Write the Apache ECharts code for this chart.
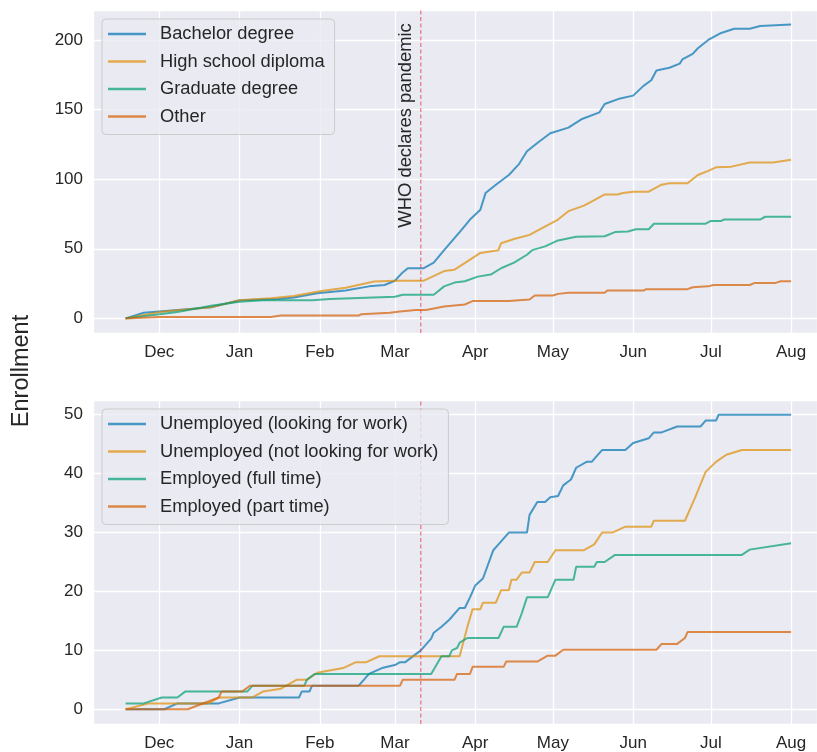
<!DOCTYPE html>
<html>
<head>
<meta charset="utf-8">
<script src="https://cdn.jsdelivr.net/npm/echarts@6/dist/echarts.min.js"></script>
<style>
  html, body { margin: 0; padding: 0; background: #fff; }
  #chart { width: 817px; height: 752px; }
</style>
</head>
<body>
<div id="chart"></div>
<script>
// cumulative enrollment [date, count]
const bachelorDegree = [
  ['2019-11-18', 0], ['2019-11-25', 4], ['2019-12-01', 5], ['2019-12-21', 8], ['2020-01-01', 13],
  ['2020-01-16', 14], ['2020-01-22', 15], ['2020-01-31', 18], ['2020-02-11', 20], ['2020-02-20', 23],
  ['2020-02-26', 24], ['2020-03-01', 27], ['2020-03-04', 33], ['2020-03-06', 36], ['2020-03-12', 36],
  ['2020-03-16', 40], ['2020-03-20', 49], ['2020-03-26', 62], ['2020-03-30', 71], ['2020-04-03', 78],
  ['2020-04-05', 90], ['2020-04-09', 96], ['2020-04-14', 103], ['2020-04-18', 111], ['2020-04-21', 120],
  ['2020-04-25', 126], ['2020-04-30', 133], ['2020-05-07', 137], ['2020-05-12', 143], ['2020-05-19', 148],
  ['2020-05-21', 154], ['2020-05-27', 158], ['2020-06-01', 160], ['2020-06-05', 167], ['2020-06-08', 171],
  ['2020-06-10', 178], ['2020-06-15', 180], ['2020-06-19', 183], ['2020-06-20', 186], ['2020-06-24', 190],
  ['2020-06-26', 194], ['2020-06-30', 200], ['2020-07-05', 205], ['2020-07-10', 208], ['2020-07-16', 208],
  ['2020-07-20', 210], ['2020-08-01', 211]
]
const highSchool = [
  ['2019-11-18', 0], ['2019-12-01', 4.5], ['2019-12-21', 8], ['2020-01-01', 13], ['2020-01-13', 14.5],
  ['2020-01-22', 16], ['2020-02-01', 19.5], ['2020-02-11', 22], ['2020-02-22', 26.5], ['2020-03-01', 27],
  ['2020-03-12', 27], ['2020-03-20', 34], ['2020-03-24', 35], ['2020-03-29', 41], ['2020-04-03', 47],
  ['2020-04-10', 49], ['2020-04-11', 54], ['2020-04-16', 57], ['2020-04-22', 60], ['2020-04-29', 67],
  ['2020-05-03', 71], ['2020-05-07', 77], ['2020-05-13', 81], ['2020-05-17', 85], ['2020-05-21', 89],
  ['2020-05-26', 89], ['2020-05-28', 90], ['2020-06-01', 91], ['2020-06-07', 91], ['2020-06-12', 96],
  ['2020-06-15', 97], ['2020-06-22', 97], ['2020-06-26', 103], ['2020-06-30', 106], ['2020-07-03', 108.5],
  ['2020-07-09', 109], ['2020-07-16', 112], ['2020-07-25', 112], ['2020-08-01', 114]
]
const graduateDegree = [
  ['2019-11-18', 0], ['2019-12-01', 3], ['2019-12-08', 4.5], ['2019-12-21', 9], ['2020-01-01', 12],
  ['2020-01-10', 13], ['2020-01-29', 13], ['2020-02-05', 14], ['2020-03-01', 15.5], ['2020-03-04', 17],
  ['2020-03-16', 17], ['2020-03-20', 23], ['2020-03-24', 25.7], ['2020-03-28', 26.7], ['2020-04-02', 30],
  ['2020-04-07', 31.5], ['2020-04-11', 36], ['2020-04-16', 40], ['2020-04-21', 45.7], ['2020-04-23', 49],
  ['2020-04-28', 51.7], ['2020-05-03', 56], ['2020-05-10', 58.6], ['2020-05-21', 59], ['2020-05-25', 62],
  ['2020-05-30', 62.4], ['2020-06-02', 64], ['2020-06-07', 64], ['2020-06-09', 68], ['2020-06-29', 68],
  ['2020-07-01', 70], ['2020-07-05', 70], ['2020-07-06', 71], ['2020-07-20', 71], ['2020-07-22', 73],
  ['2020-08-01', 73]
]
const otherDegree = [
  ['2019-11-18', 0], ['2019-12-01', 1], ['2020-01-13', 1], ['2020-01-17', 2], ['2020-02-16', 2],
  ['2020-02-17', 3], ['2020-02-28', 4], ['2020-03-03', 5], ['2020-03-09', 6], ['2020-03-13', 6],
  ['2020-03-20', 8.5], ['2020-03-28', 10], ['2020-03-31', 12.4], ['2020-04-14', 12.4], ['2020-04-22', 13.6],
  ['2020-04-24', 16.4], ['2020-05-01', 16.4], ['2020-05-03', 17.6], ['2020-05-07', 18.4], ['2020-05-21', 18.4],
  ['2020-05-22', 20], ['2020-06-05', 20], ['2020-06-06', 21], ['2020-06-22', 21], ['2020-06-24', 22.4],
  ['2020-06-30', 23], ['2020-07-02', 24], ['2020-07-16', 24], ['2020-07-18', 25.5], ['2020-07-26', 25.5],
  ['2020-07-28', 26.7], ['2020-08-01', 26.7]
]

const unemployedLooking = [
  ['2019-11-18', 0], ['2019-12-03', 0], ['2019-12-08', 1], ['2019-12-24', 1], ['2020-01-01', 2],
  ['2020-01-24', 2], ['2020-01-25', 3], ['2020-01-28', 3], ['2020-01-29', 4], ['2020-02-16', 4],
  ['2020-02-18', 5], ['2020-02-20', 6], ['2020-02-25', 7], ['2020-03-01', 7.5], ['2020-03-03', 8],
  ['2020-03-05', 8], ['2020-03-11', 10], ['2020-03-15', 12], ['2020-03-16', 13], ['2020-03-19', 14],
  ['2020-03-22', 15.2], ['2020-03-26', 17.2], ['2020-03-28', 17.2], ['2020-03-30', 19], ['2020-04-01', 21],
  ['2020-04-04', 22.2], ['2020-04-08', 27], ['2020-04-10', 28], ['2020-04-14', 30], ['2020-04-21', 30],
  ['2020-04-22', 33], ['2020-04-25', 35.2], ['2020-04-28', 35.2], ['2020-04-30', 36], ['2020-05-03', 36.2],
  ['2020-05-05', 38], ['2020-05-08', 39], ['2020-05-10', 41], ['2020-05-14', 42], ['2020-05-16', 42],
  ['2020-05-18', 43], ['2020-05-20', 44], ['2020-05-29', 44], ['2020-06-01', 45.2], ['2020-06-07', 46],
  ['2020-06-09', 47], ['2020-06-12', 47], ['2020-06-18', 48], ['2020-06-27', 48], ['2020-06-29', 49],
  ['2020-07-03', 49], ['2020-07-04', 50], ['2020-08-01', 50]
]
const unemployedNotLooking = [
  ['2019-11-18', 0], ['2019-11-27', 1], ['2019-12-20', 1], ['2019-12-24', 2], ['2020-01-06', 2],
  ['2020-01-10', 3], ['2020-01-17', 3.5], ['2020-01-23', 5], ['2020-01-27', 5], ['2020-01-31', 6.2],
  ['2020-02-10', 7], ['2020-02-15', 8], ['2020-02-19', 8], ['2020-02-24', 9], ['2020-03-26', 9],
  ['2020-03-27', 10.7], ['2020-03-29', 14], ['2020-03-31', 17], ['2020-04-03', 17], ['2020-04-04', 18.1],
  ['2020-04-09', 18.1], ['2020-04-11', 20.2], ['2020-04-14', 20.2], ['2020-04-15', 22], ['2020-04-17', 22],
  ['2020-04-19', 23.2], ['2020-04-22', 23.2], ['2020-04-24', 25], ['2020-04-29', 25], ['2020-05-02', 27],
  ['2020-05-13', 27], ['2020-05-17', 28], ['2020-05-20', 30], ['2020-05-24', 30], ['2020-05-29', 31],
  ['2020-06-08', 31], ['2020-06-09', 32], ['2020-06-21', 32], ['2020-06-25', 36], ['2020-06-29', 40.3],
  ['2020-07-03', 42], ['2020-07-07', 43.2], ['2020-07-13', 44], ['2020-08-01', 44]
]
const employedFull = [
  ['2019-11-18', 1], ['2019-11-25', 1], ['2019-12-02', 2], ['2019-12-08', 2], ['2019-12-11', 3],
  ['2020-01-04', 3], ['2020-01-06', 4], ['2020-01-26', 4], ['2020-01-27', 5], ['2020-01-30', 6],
  ['2020-03-15', 6], ['2020-03-19', 9], ['2020-03-22', 9], ['2020-03-23', 10], ['2020-03-25', 10.4],
  ['2020-03-26', 11.3], ['2020-03-29', 12.1], ['2020-04-10', 12.1], ['2020-04-12', 14], ['2020-04-17', 14],
  ['2020-04-19', 16.3], ['2020-04-21', 19], ['2020-04-29', 19], ['2020-05-02', 22], ['2020-05-09', 22],
  ['2020-05-10', 24.2], ['2020-05-17', 24.2], ['2020-05-18', 25], ['2020-05-21', 25], ['2020-05-25', 26.2],
  ['2020-07-13', 26.2], ['2020-07-16', 27.1], ['2020-08-01', 28.2]
]
const employedPart = [
  ['2019-11-18', 0], ['2019-12-12', 0], ['2019-12-24', 2], ['2019-12-25', 3], ['2020-01-02', 3],
  ['2020-01-05', 4], ['2020-03-03', 4], ['2020-03-04', 5], ['2020-03-24', 5], ['2020-03-25', 6],
  ['2020-03-30', 6], ['2020-03-31', 7.2], ['2020-04-12', 7.2], ['2020-04-13', 8.1], ['2020-04-25', 8.1],
  ['2020-04-29', 9.1], ['2020-05-02', 9.1], ['2020-05-05', 10.1], ['2020-06-10', 10.1], ['2020-06-12', 11.1],
  ['2020-06-18', 11.1], ['2020-06-21', 12.1], ['2020-06-22', 13.1], ['2020-08-01', 13.1]
]

const degreeNames = ['Bachelor degree', 'High school diploma', 'Graduate degree', 'Other']
const statusNames = ['Unemployed (looking for work)', 'Unemployed (not looking for work)', 'Employed (full time)', 'Employed (part time)']
const palette = ['#0173b2', '#de8f05', '#029e73', '#d55e00']
const pandemicDate = '2020-03-11'

// y ranges of the two panels (matplotlib 5% margins)
const topRange = [-10.5, 221.5]
const bottomRange = [-2.5, 52.5]

const FONT = 'Liberation Sans'
const TXT = '#262626'
const DASH_RED = '#e8303c'

// echarts.time.parse gives a Date, so turn it into a number
const xMin = +echarts.time.parse('2019-11-05') + 10 * 3600e3
const xMax = +echarts.time.parse('2020-08-11')
const pandemicTs = +echarts.time.parse(pandemicDate)

const chart = echarts.init(document.getElementById('chart'), null, {renderer: 'canvas'})

function xAxisCfg(gridIndex) {
  return {
    type: 'time',
    gridIndex,
    min: xMin,
    max: xMax,
    splitNumber: 9,
    axisLine: {show: false},
    axisTick: {show: false},
    splitLine: {show: true, lineStyle: {color: '#ffffff', width: 1.3}},
    axisLabel: {
      formatter: '{MMM}',
      fontFamily: FONT,
      fontSize: 17,
      color: TXT,
      margin: 11,
      showMinLabel: false,
      showMaxLabel: false
    }
  }
}

function yAxisCfg(gridIndex, range, step) {
  return {
    type: 'value',
    gridIndex,
    min: range[0],
    max: range[1],
    minInterval: step,
    maxInterval: step,
    axisLine: {show: false},
    axisTick: {show: false},
    splitLine: {show: true, lineStyle: {color: '#ffffff', width: 1.3}},
    axisLabel: {
      formatter: v => (Math.abs(v % step) < 1e-6 ? String(v) : ''),
      fontFamily: FONT,
      fontSize: 17,
      color: TXT,
      margin: 10
    }
  }
}

function makeSeries(name, data, idx, gridIndex) {
  return {
    name,
    type: 'line',
    xAxisIndex: gridIndex,
    yAxisIndex: gridIndex,
    data,
    symbol: 'none',
    showSymbol: false,
    silent: true,
    color: palette[idx],
    lineStyle: {width: 2, opacity: 0.7},
    itemStyle: {opacity: 0.7},
    emphasis: {disabled: true}
  }
}

// dashed vertical marker, drawn as a two-point line across the panel
function pandemicLine(gridIndex, range) {
  return {
    name: 'pandemic' + gridIndex,
    type: 'line',
    xAxisIndex: gridIndex,
    yAxisIndex: gridIndex,
    data: [[pandemicDate, range[0]], [pandemicDate, range[1]]],
    symbol: 'none',
    showSymbol: false,
    silent: true,
    color: DASH_RED,
    lineStyle: {color: DASH_RED, type: [4, 2.5], width: 1.1, opacity: 0.7},
    emphasis: {disabled: true},
    z: 3
  }
}

function legendCfg(names, top) {
  return {
    data: names,
    orient: 'vertical',
    left: 102,
    top,
    padding: [6, 10, 9, 6],
    icon: 'rect',
    itemWidth: 38,
    itemHeight: 2.5,
    itemGap: 9.5,
    itemStyle: {opacity: 0.7, borderWidth: 0},
    backgroundColor: 'rgba(234, 234, 242, 0.8)',
    borderColor: '#cccccc',
    borderWidth: 1,
    borderRadius: 4,
    selectedMode: false,
    textStyle: {fontFamily: FONT, fontSize: 18.3, color: TXT, padding: [0, 0, 0, 9]}
  }
}

const degreeData = [bachelorDegree, highSchool, graduateDegree, otherDegree]
const statusData = [unemployedLooking, unemployedNotLooking, employedFull, employedPart]

chart.setOption({
  animation: false,
  backgroundColor: '#ffffff',
  grid: [
    {left: 93, right: 0, top: 10, height: 323, show: true, backgroundColor: '#eaeaf2', borderWidth: 0},
    {left: 93, right: 0, top: 400, height: 324, show: true, backgroundColor: '#eaeaf2', borderWidth: 0}
  ],
  xAxis: [xAxisCfg(0), xAxisCfg(1)],
  yAxis: [yAxisCfg(0, topRange, 50), yAxisCfg(1, bottomRange, 10)],
  legend: [legendCfg(degreeNames, 19), legendCfg(statusNames, 409)],
  series: [
    ...degreeNames.map((n, i) => makeSeries(n, degreeData[i], i, 0)),
    pandemicLine(0, topRange),
    ...statusNames.map((n, i) => makeSeries(n, statusData[i], i, 1)),
    pandemicLine(1, bottomRange)
  ]
})

// annotation beside the dashed line, placed through the axis scales
const anchor = chart.convertToPixel({xAxisIndex: 0, yAxisIndex: 0}, [pandemicTs, 212])
chart.setOption({
  graphic: [
    {
      type: 'text',
      x: anchor[0] - 6,
      y: anchor[1],
      rotation: Math.PI / 2,
      style: {
        text: 'WHO declares pandemic',
        fontFamily: FONT,
        fontSize: 18.4,
        fill: TXT,
        align: 'right',
        verticalAlign: 'bottom'
      }
    },
    {
      type: 'text',
      x: 22,
      y: 371,
      rotation: Math.PI / 2,
      style: {
        text: 'Enrollment',
        fontFamily: FONT,
        fontSize: 23.5,
        fill: TXT,
        align: 'center',
        verticalAlign: 'middle'
      }
    }
  ]
})
</script>
</body>
</html>
